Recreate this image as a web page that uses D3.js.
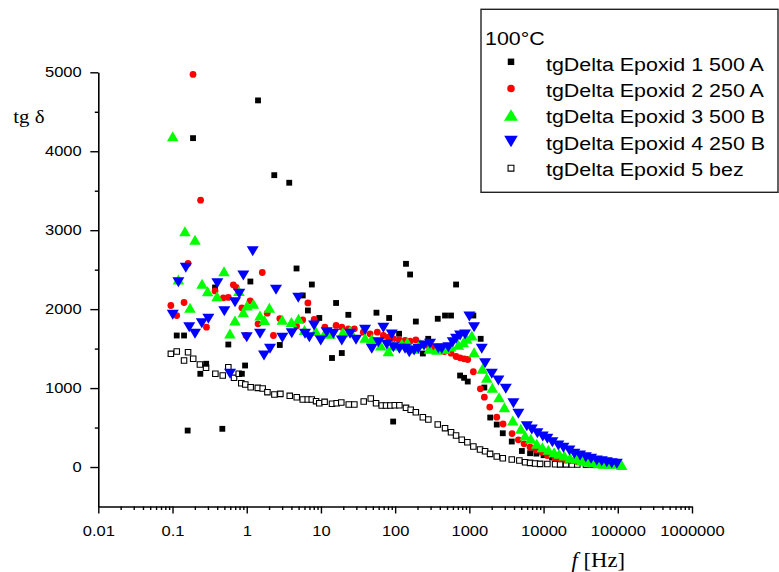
<!DOCTYPE html>
<html><head><meta charset="utf-8">
<script src="https://cdn.jsdelivr.net/npm/d3@7"></script>
<style>body{margin:0;background:#fff}svg{display:block}</style>
</head><body><svg id="c" width="779" height="572"></svg>
<script>
// ---- data ----
const s1Freq=[0.114,0.143,0.160,0.189,0.237,0.284,0.374,0.469,0.565,0.86,0.95,1.12,1.42,2.35,2.79,3.74,4.69,5.69,6.67,7.54,9.5,14.1,16.0,19.1,23.4,56,83,94,113,140,159,190,236,279,375,470,566,662,750,849,951,1132,1420,1592,1910,2340,2820,3727,5100,6578,8000,10000,13000,16000,20000,25000,32000,40000,50000,65000,80000,97000];
const s1Val=[1666,1666,462,4166,1181,1308,2274,484,1552,1181,1286,2350,4644,3697,1546,3601,2515,2173,1983,2312,1888,1381,2078,1444,1928,1955,1888,576,1688,2574,2439,1843,1438,1624,1878,1919,1919,2312,1159,1130,1083,1919,1624,1007,627,538,428,323,203,175,170,150,120,100,85,75,62,55,48,42,36,32];
const s2Freq=[0.095,0.114,0.143,0.162,0.189,0.239,0.287,0.374,0.484,0.565,0.660,0.720,0.86,0.98,1.11,1.42,1.62,1.89,2.29,2.79,4.69,5.69,6.67,8.1,11.3,16,19.1,23.4,28.2,37.2,45.9,57.5,69.4,81,94.6,113,136,159,190,228,280,327,391,460,566,662,750,849,951,1132,1406,1592,1882,2340,2844,3760,4575,5460,6578,7920,9460,11250,14290,16700,20000,24000,28500,37000,46000,55000,64000,75000,86000,97000];
const s2Val=[2046,1919,2084,2578,4973,3380,1771,2230,2144,2148,2308,2274,2017,1666,2103,1814,2464,1949,1666,1881,1786,1865,2078,1869,1771,1793,1771,1751,1751,1708,1688,1708,1666,1645,1624,1612,1603,1594,1612,1561,1539,1518,1498,1463,1442,1400,1384,1371,1362,1207,991,884,760,631,545,424,345,294,251,218,188,146,111,104,90,80,70,60,50,45,40,35,30,28];
const s3Freq=[0.1007,0.120,0.147,0.172,0.201,0.250,0.297,0.398,0.494,0.593,0.695,0.787,0.898,1.01,1.23,1.51,1.73,2.02,3.01,4.0,4.99,6.0,8.5,11.3,13.3,19.7,24.7,39.3,48.4,64,81,94.6,123,146,181,216,289,364,470,561,711,830,923,1077,1157,1497,1715,2041,2512,2964,3848,4930,5640,6730,8100,9640,11600,13870,16200,19060,22750,27400,32700,38900,46000,54700,64000,76400,89200,113000];
const s3Val=[4190,2376,2988,2017,2879,2321,2227,2164,2481,1691,1856,2230,1961,2046,2068,1920,1862,2017,1865,1837,1878,1736,1723,1698,1688,1708,1729,1637,1624,1539,1467,1539,1561,1581,1498,1561,1498,1485,1498,1527,1548,1581,1624,1666,1455,1244,1130,1003,884,758,589,484,399,357,294,251,218,188,167,146,117,104,82,70,61,48,41,41,41,25];
const s4Freq=[0.1007,0.120,0.151,0.168,0.201,0.248,0.304,0.402,0.499,0.596,0.695,0.794,0.900,1.0,1.205,1.51,1.71,2.06,2.48,3.02,4.04,4.95,6.1,6.98,8.08,9.93,11.97,14.7,19.1,24.7,29.7,39.3,48.4,59.4,69.4,77.1,90,94.6,114,136,155,180,206,245,295,382,425,521,597,662,750,875,1000,1157,1469,1628,2005,2460,3097,3920,4575,5943,6940,8250,9750,11240,13140,15820,18490,22280,26000,31000,37070,43650,52100,60800,71100,83000,97000];
const s4Val=[1928,2341,2524,1771,1688,1822,1878,2329,1974,1181,2088,2194,2426,1645,2734,1688,1413,1498,2245,1637,1695,2144,1688,1645,1793,1603,1708,1688,1603,1688,1612,1738,1498,1581,1764,1552,1679,1518,1498,1498,1455,1476,1498,1539,1561,1505,1498,1518,1581,1624,1666,1679,1907,1771,1498,1315,1181,1096,991,808,674,517,475,428,386,357,314,272,243,209,167,146,124,104,82,73,61,48,41];
const s5Freq=[0.095,0.114,0.143,0.162,0.19,0.234,0.283,0.378,0.475,0.565,0.674,0.78,0.845,0.957,1.13,1.41,1.64,1.9,2.36,2.84,3.8,4.72,5.69,6.64,7.52,8.6,9.5,11.2,14.1,16.3,18.8,23.7,28.2,37.7,46.9,55.3,65.9,75.4,86.1,98.8,114,140,162,190,236,280,375,470,566,662,790,940,1132,1393,1628,1902,2340,2820,3727,4718,5633,6578,7686,8980,11250,14290,16700,20100,24000,28500,37400,46000,54800,64000,74700,85700,97000];
const s5Val=[1434,1463,1350,1454,1371,1299,1258,1182,1159,1264,1130,1182,1062,1045,1011,1003,995,948,919,927,902,884,855,855,855,834,808,826,801,808,817,792,792,830,868,808,779,779,779,783,783,750,725,694,631,602,538,492,441,399,345,314,260,222,200,167,133,111,95,82,61,53,45,40,38,35,33,33,32,32,30,30,30,30,30,30,30];

const seriesNames=["tgDelta Epoxid 1 500 A","tgDelta Epoxid 2 250 A","tgDelta Epoxid 3 500 B","tgDelta Epoxid 4 250 B","tgDelta Epoxid 5 bez"];
const legendTitle="100°C";
const xTickValues=[0.01,0.1,1,10,100,1000,10000,100000,1000000];
const xTickLabels=["0.01","0.1","1","10","100","1000","10000","100000","1000000"];
const yTickValues=[0,1000,2000,3000,4000,5000];
const yTickLabels=["0","1000","2000","3000","4000","5000"];
const yMinorValues=[500,1500,2500,3500,4500];
const yTitle="tg δ";

// ---- setup ----
const svg=d3.select("#c");
svg.append("rect").attr("width",779).attr("height",572).attr("fill","#fff");
const x=d3.scaleLog().domain([0.01,1e6]).range([98.3,692]);
const y=d3.scaleLinear().domain([-500,5000]).range([506.5,72.3]);
const SANS="Arial, 'Liberation Sans', Helvetica, sans-serif";
const SERIF="'Times New Roman', 'Liberation Serif', serif";
const SX=1.14;

// minor x ticks
const xMinor=[];
for(let e=-2;e<6;e++){for(let k=2;k<=9;k++){xMinor.push(k*Math.pow(10,e));}}
const gxm=svg.append("g").attr("transform",`translate(0,${y(-500)})`)
  .call(d3.axisBottom(x).tickValues(xMinor).tickSize(3.5).tickFormat(""));
gxm.select(".domain").remove();
const gx=svg.append("g").attr("transform",`translate(0,${y(-500)})`)
  .call(d3.axisBottom(x).tickValues(xTickValues).tickSize(7).tickSizeOuter(0).tickFormat((d,i)=>xTickLabels[i]));
gx.selectAll("text").attr("y",19.5).attr("font-size",14.5).attr("font-family",SANS).attr("fill","#000")
  .attr("transform",`scale(${SX},1)`);

const gym=svg.append("g").attr("transform",`translate(${x(0.01)},0)`)
  .call(d3.axisLeft(y).tickValues(yMinorValues).tickSize(3.5).tickFormat(""));
gym.select(".domain").remove();
const gy=svg.append("g").attr("transform",`translate(${x(0.01)},0)`)
  .call(d3.axisLeft(y).tickValues(yTickValues).tickSize(8).tickSizeOuter(0).tickFormat((d,i)=>yTickLabels[i]));
gy.selectAll("text").attr("x",-16.6/SX).attr("font-size",14.5).attr("font-family",SANS).attr("fill","#000")
  .attr("transform",`scale(${SX},1)`);
svg.selectAll(".domain").attr("stroke","#000").attr("stroke-width",1.6);
svg.selectAll(".tick line").attr("stroke","#000").attr("stroke-width",1.4);

// axis titles
svg.append("text").attr("transform",`translate(13.3,123.3) scale(1.1,1)`)
  .attr("font-family",SERIF).attr("font-size",19).attr("fill","#000").text(yTitle);
const xt=svg.append("text").attr("transform",`translate(571.5,566.5) scale(1.08,1)`)
  .attr("font-family",SERIF).attr("font-size",21).attr("fill","#000");
xt.append("tspan").attr("font-style","italic").text("f");
xt.append("tspan").text(" [Hz]");

// ---- markers ----
function triUp(w,h){return `M0,${-h/2}L${w/2},${h/2}L${-w/2},${h/2}Z`;}
function triDown(w,h){return `M0,${h/2}L${w/2},${-h/2}L${-w/2},${-h/2}Z`;}
const markers=[
  {path:d3.symbol(d3.symbolSquare,34)(),fill:"#000",stroke:"none",lpath:d3.symbol(d3.symbolSquare,42)()},
  {path:d3.symbol(d3.symbolCircle,36)(),fill:"#ff0000",stroke:"none",lpath:d3.symbol(d3.symbolCircle,44)()},
  {path:triUp(11.5,10),fill:"#00ff00",stroke:"none",lpath:triUp(14,11.5)},
  {path:triDown(12,10),fill:"#0000ff",stroke:"none",lpath:triDown(13.5,11.5)},
  {path:d3.symbol(d3.symbolSquare,30)(),fill:"#fff",stroke:"#000",lpath:d3.symbol(d3.symbolSquare,34)()}
];
const series=[
  {f:s1Freq,v:s1Val},{f:s2Freq,v:s2Val},{f:s3Freq,v:s3Val},{f:s4Freq,v:s4Val},{f:s5Freq,v:s5Val}
];
const drawOrder=[4,0,1,2,3];
drawOrder.forEach(si=>{
  const s=series[si], m=markers[si];
  const pts=s.f.map((f,i)=>({f:f,v:s.v[i]}));
  svg.append("g").selectAll("path").data(pts).join("path")
    .attr("d",m.path)
    .attr("transform",d=>`translate(${x(d.f)},${y(d.v)})`)
    .attr("fill",m.fill).attr("stroke",m.stroke).attr("stroke-width",1.1);
});

// ---- legend ----
const lg=svg.append("g");
lg.append("rect").attr("x",481).attr("y",9.3).attr("width",297).attr("height",183)
  .attr("fill","#fff").attr("stroke","#222").attr("stroke-width",1.4);
lg.append("text").attr("transform",`translate(485,45) scale(${SX},1)`)
  .attr("font-family",SANS).attr("font-size",18.8).attr("fill","#000").text(legendTitle);
seriesNames.forEach((n,i)=>{
  const m=markers[i];
  lg.append("path").attr("d",m.lpath).attr("transform",`translate(511,${61.8+i*26.6})`)
    .attr("fill",m.fill).attr("stroke",m.stroke).attr("stroke-width",1.1);
  lg.append("text").attr("transform",`translate(546,${71+i*26.2}) scale(${SX},1)`)
    .attr("font-family",SANS).attr("font-size",18.8).attr("fill","#000").text(n);
});
</script></body></html>
